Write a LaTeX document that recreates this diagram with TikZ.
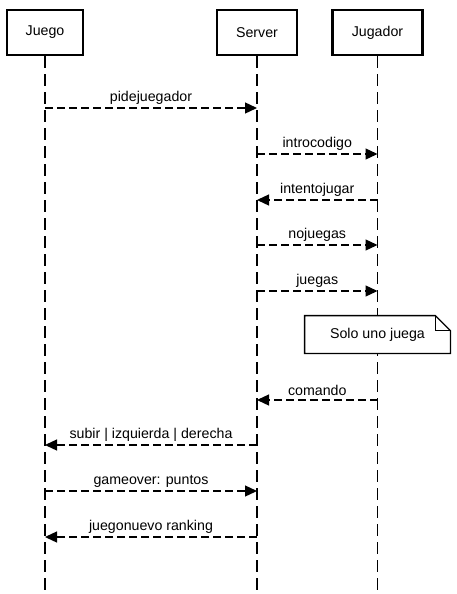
\documentclass[tikz,border=0pt]{standalone}
\usepackage{fontspec}
\setmainfont{Liberation Sans}
\usetikzlibrary{arrows.meta,positioning,calc}

\begin{document}
\begin{tikzpicture}[x=1pt, y=-1pt, thick,
    actor/.style={rectangle,draw,line width=2.4pt,minimum height=45pt,inner sep=0pt,font=\fontsize{14.2}{17}\selectfont},
    life/.style={line width=1.3pt,dash pattern=on 12pt off 6pt},
    msg/.style={line width=1.3pt,dash pattern=on 8pt off 4pt,-{Triangle[length=12pt,width=11pt]}},
    lbl/.style={midway,above=0pt,font=\fontsize{14.2}{17}\selectfont},
    notebox/.style={minimum width=145pt,minimum height=37pt,inner sep=0pt,font=\fontsize{14.2}{17}\selectfont}]
    \useasboundingbox (0,0) rectangle (457,594);

    \node[actor,minimum width=76pt] (juego) at (45,32.5) {Juego};
    \node[actor,minimum width=80pt] (server) at (257,32.5) {Server};
    \node[actor,minimum width=90pt] (jugador) at (377.5,32.5) {Jugador};

    % lifelines
    \coordinate (juego-end) at (45,594);
    \coordinate (server-end) at (257,594);
    \coordinate (jugador-end) at (377.5,594);
    \draw[life] (juego) -- (juego-end);
    \draw[life] (server) -- (server-end);
    \draw[life] (jugador) -- (jugador-end);

    % message points on the lifelines
    \foreach \y/\n in {108/1,154/2,200/3,245/4,291/5,400/6,445/7,491/8,537/9} {
        \coordinate (juego\n) at (juego |- 0,\y);
        \coordinate (server\n) at (server |- 0,\y);
        \coordinate (jugador\n) at (jugador |- 0,\y);
    }

    \draw[msg] (juego1) -- (server1) node[lbl] {pidejuegador};
    \draw[msg] (server2) -- (jugador2) node[lbl] {introcodigo};
    \draw[msg] (jugador3) -- (server3) node[lbl] {intentojugar};
    \draw[msg] (server4) -- (jugador4) node[lbl] {nojuegas};
    \draw[msg] (server5) -- (jugador5) node[lbl] {juegas};

    % note
    \node[notebox] (note) at (377.5,334.5) {Solo uno juega};
    \draw[line width=1.3pt,fill=white] (note.south west) -- (note.north west)
        -- ([xshift=-15pt]note.north east) -- ([yshift=-15pt]note.north east)
        -- (note.south east) -- cycle;
    \draw[line width=1.3pt] ([xshift=-15pt]note.north east) -- ([xshift=-15pt,yshift=-15pt]note.north east)
        -- ([yshift=-15pt]note.north east);
    \node[notebox] at (note) {Solo uno juega};

    \draw[msg] (jugador6) -- (server6) node[lbl] {comando};
    \draw[msg] (server7) -- (juego7) node[lbl] {subir | izquierda | derecha};
    \draw[msg] (juego8) -- (server8) node[lbl] {gameover: puntos};
    \draw[msg] (server9) -- (juego9) node[lbl] {juegonuevo ranking};
\end{tikzpicture}
\end{document}
